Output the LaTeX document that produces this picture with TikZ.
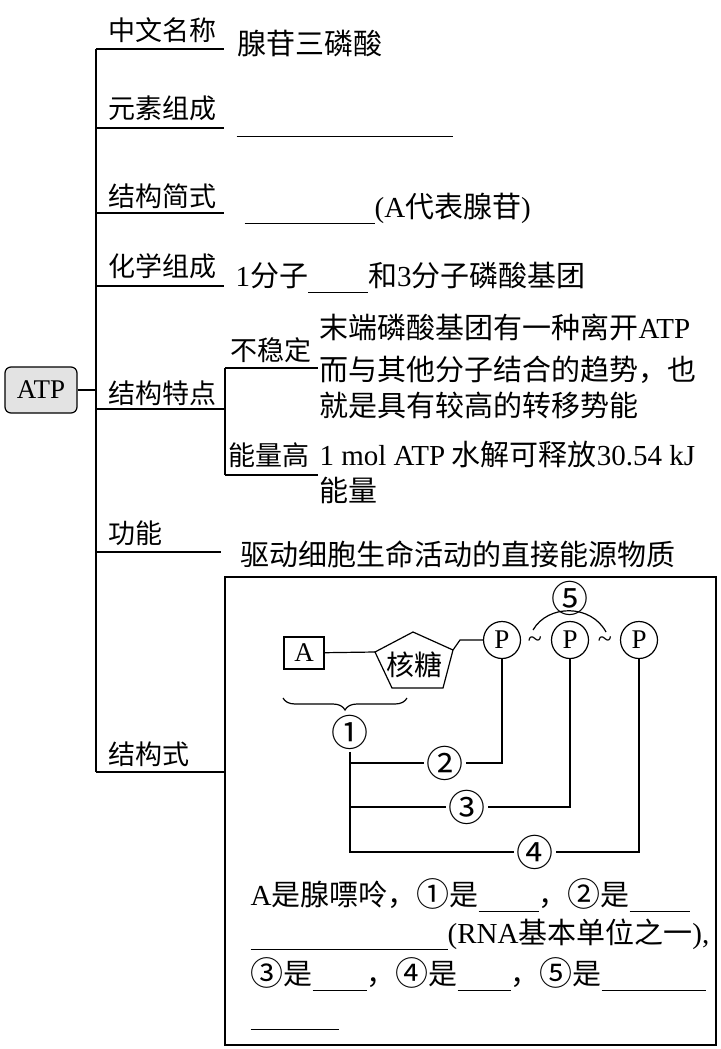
\documentclass[tikz,border=0pt]{standalone}
\usepackage{fontspec}
\setmainfont{Noto Sans CJK SC}
\newfontfamily\enfont{Liberation Serif}
\newcommand\en[1]{{\enfont #1}}
\newcommand\fillin[1]{\rule[-7pt]{#1pt}{1.2pt}}
\newcommand\cnum[1]{\raisebox{-1pt}{\fontsize{33}{34}\selectfont #1}}
\usetikzlibrary{decorations.pathreplacing}
\tikzset{
	branch/.style={font=\fontsize{27}{32}\selectfont, anchor=base west, inner sep=0pt},
	leaf/.style={font=\fontsize{29}{34}\selectfont, anchor=base west, inner sep=0pt},
	tag/.style={font=\fontsize{37}{40}\selectfont, inner sep=2pt},
	pgroup/.style={draw, circle, minimum size=37pt, inner sep=0pt, font=\enfont\fontsize{27}{32}\selectfont},
	bond/.style={font=\enfont\fontsize{26}{28}\selectfont, inner sep=0pt},
}
\begin{document}
\begin{tikzpicture}[x=1pt,y=-1pt,line width=1.2pt]
	\useasboundingbox (0,0) rectangle (720,1049);
	\node[draw, rounded corners=6pt, fill=gray!22, minimum width=72pt, minimum height=46pt, inner sep=0pt, font=\enfont\fontsize{27}{32}\selectfont] (atp) at (41,390) {ATP};
	\coordinate (top) at (96,49);
	\coordinate (bot) at (96,772);
	\draw (top) -- (bot);
	\draw (atp) -- (atp -| top);
	\foreach \n/\y/\e in {name/49/224,elem/128/224,brief/213/224,chem/286/224,feat/409/225,func/552/221,form/772/225}{
		\coordinate (\n-l) at (96,\y);
		\coordinate (\n-r) at (\e,\y);
		\draw (\n-l) -- (\n-r);
	}
	\node[branch] (name) at (108,41) {中文名称};
	\node[branch] (elem) at (108,118) {元素组成};
	\node[branch] (brief) at (108,206) {结构简式};
	\node[branch] (chem) at (108,276) {化学组成};
	\node[branch] (feat) at (108,403) {结构特点};
	\node[branch] (func) at (108,543) {功能};
	\node[branch] (form) at (108,764) {结构式};
	\node[leaf] (name-v) at (237,55) {腺苷三磷酸};
	\node[leaf] (elem-v) at (236,130) {\fillin{216}};
	\node[leaf] (brief-v) at (244,217) {\fillin{130}\en{(A}代表腺苷\en{)}};
	\node[leaf] (chem-v) at (235,286) {\en{1}分子\fillin{60}和\en{3}分子磷酸基团};
	\coordinate (feat-t) at (225,368);
	\coordinate (feat-b) at (225,475);
	\coordinate (uns-r) at (318,368);
	\coordinate (high-r) at (318,475);
	\draw (feat-t) -- (feat-b);
	\draw (feat-t) -- (uns-r);
	\draw (feat-b) -- (high-r);
	\node[branch] (uns) at (230,360) {不稳定};
	\node[branch] (high) at (228,465) {能量高};
	\node[leaf] (uns-v1) at (319,338) {末端磷酸基团有一种离开\en{ATP}};
	\node[leaf] (uns-v2) at (319,380) {而与其他分子结合的趋势，也};
	\node[leaf] (uns-v3) at (319,416) {就是具有较高的转移势能};
	\node[leaf] (high-v1) at (319,465) {\en{1 mol ATP} 水解可释放\en{30.54 kJ}};
	\node[leaf] (high-v2) at (319,501) {能量};
	\node[leaf] (func-v) at (240,565) {驱动细胞生命活动的直接能源物质};
	\draw[line width=1.5pt] (225,577) rectangle (716,1045);
	\node[draw, minimum width=40pt, minimum height=32pt, inner sep=0pt, font=\enfont\fontsize{27}{32}\selectfont] (A) at (304,653) {A};
	\coordinate (pt) at (413,632);
	\coordinate (pr) at (453,650);
	\coordinate (pbr) at (443,688);
	\coordinate (pbl) at (392,688);
	\coordinate (pl) at (375,652);
	\draw (pt) -- (pr) -- (pbr) -- (pbl) -- (pl) -- cycle;
	\node[font=\fontsize{28}{32}\selectfont] (sugar) at (414,665) {核糖};
	\node[pgroup] (p1) at (502,640) {P};
	\node[pgroup] (p2) at (570,640) {P};
	\node[pgroup] (p3) at (639,640) {P};
	\coordinate (pk) at (460,640);
	\draw (A) -- (pl);
	\draw (pr) -- (pk) -- (p1);
	\node[bond] (bond1) at (535,642) {\textasciitilde};
	\node[bond] (bond2) at (605,642) {\textasciitilde};
	\coordinate (arc-l) at (533,630);
	\coordinate (arc-r) at (606,632);
	\draw (arc-l) .. controls (548,604) and (591,604) .. (arc-r);
	\node[tag] (n5) at (570,598) {⑤};
	\draw[decorate, decoration={brace, amplitude=12pt}] (407,698) -- (283,698);
	\node[tag] (n1) at (350,732) {①};
	\node[tag] (n2) at (445,763) {②};
	\node[tag] (n3) at (467,807) {③};
	\node[tag] (n4) at (535,852) {④};
	\draw (n1) |- (n4);
	\draw (n1 |- n2) -- (n2);
	\draw (n1 |- n3) -- (n3);
	\draw (n2) -| (p1);
	\draw (n3) -| (p2);
	\draw (n4) -| (p3);
	\node[leaf] (note1) at (250,905) {\en{A}是腺嘌呤，\cnum{①}是\fillin{60}，\cnum{②}是\fillin{60}};
	\node[leaf] (note2) at (250,943) {\fillin{197}\en{(RNA}基本单位之一\en{),}};
	\node[leaf] (note3) at (250,984) {\cnum{③}是\fillin{54}，\cnum{④}是\fillin{53}，\cnum{⑤}是\fillin{104}};
	\node[leaf] (note4) at (250,1023) {\fillin{88}};
\end{tikzpicture}
\end{document}
